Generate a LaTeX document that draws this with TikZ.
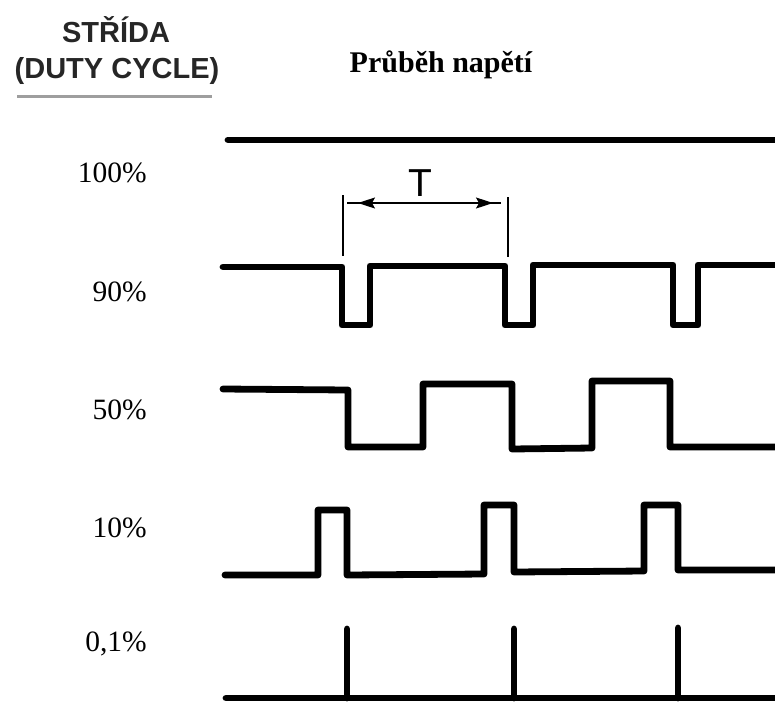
\documentclass[tikz,border=0pt]{standalone}
\usepackage{fontspec}
\setmainfont{Liberation Serif}
\newfontfamily\arialf{Liberation Sans}
\usetikzlibrary{arrows.meta}
\begin{document}
\begin{tikzpicture}[x=1pt,y=-1pt,
  wave/.style={line width=6.8pt,line join=round,line cap=round},
  lbl/.style={inner sep=0pt,anchor=base east,font=\fontsize{29.5}{34}\selectfont},
  hdr/.style={inner sep=0pt,anchor=base,font=\arialf\bfseries\fontsize{29}{34}\selectfont,text=black!85},
  ttl/.style={inner sep=0pt,anchor=base,font=\bfseries\fontsize{30}{34}\selectfont},
  thinl/.style={line width=1.3pt},
]
\useasboundingbox (0,0) rectangle (775,704);
% header
\node[hdr] (h1) at (116,42) {STŘÍDA};
\node[hdr] (h2) at (117,78) {(DUTY CYCLE)};
\coordinate (ul1) at (17,96);
\coordinate (ul2) at (212,96);
\draw[line width=3pt,black!38] (ul1) -- (ul2);
\node[ttl] (title) at (441,72) {Průběh napětí};
% labels
\node[lbl] (l100) at (147,182) {100\%};
\node[lbl] (l90)  at (147,301) {90\%};
\node[lbl] (l50)  at (147,419) {50\%};
\node[lbl] (l10)  at (147,537) {10\%};
\node[lbl] (l01)  at (147,651) {0,1\%};
% 100%
\draw[wave] (228,140) -- (778,140);
% 90%
\draw[wave] (223,267) -- (342,267) -- (342,325) -- (370,325) -- (370,266)
  -- (505,266) -- (505,325) -- (533,325) -- (533,265) -- (673,265)
  -- (673,325) -- (698,325) -- (698,265) -- (778,265);
% 50%
\draw[wave] (223,389) -- (348,390) -- (348,447) -- (423,447) -- (423,384)
  -- (512,384) -- (512,449) -- (592,448) -- (592,381) -- (670,381)
  -- (670,447) -- (778,447);
% 10%
\draw[wave] (225,575) -- (318,575) -- (318,510) -- (347,510) -- (347,575)
  -- (484,574) -- (484,505) -- (514,505) -- (514,572) -- (644,571)
  -- (644,505) -- (678,505) -- (678,570) -- (778,570);
% 0,1%
\draw[wave] (226,698) -- (778,698);
\draw[wave] (347,698) -- (347,629);
\draw[wave] (514,698) -- (514,629);
\draw[wave] (678,698) -- (678,628);
% period T
\coordinate (ta) at (343,195);
\coordinate (tb) at (343,256);
\coordinate (tc) at (508,197);
\coordinate (td) at (508,257);
\draw[thinl] (ta) -- (tb);
\draw[thinl] (tc) -- (td);
\coordinate (a1) at (347,203);
\coordinate (a2) at (501,203);
\coordinate (a3) at (358,203);
\coordinate (a4) at (493,203);
\draw[thinl] (a1) -- (a2);
\draw[thinl,{Stealth[length=17pt,width=11pt,inset=3pt]}-{Stealth[length=17pt,width=11pt,inset=3pt]}] (a3) -- (a4);
\node[inner sep=0pt,anchor=base,font=\arialf\fontsize{39}{42}\selectfont] (T) at (420,196) {T};
\end{tikzpicture}
\end{document}
